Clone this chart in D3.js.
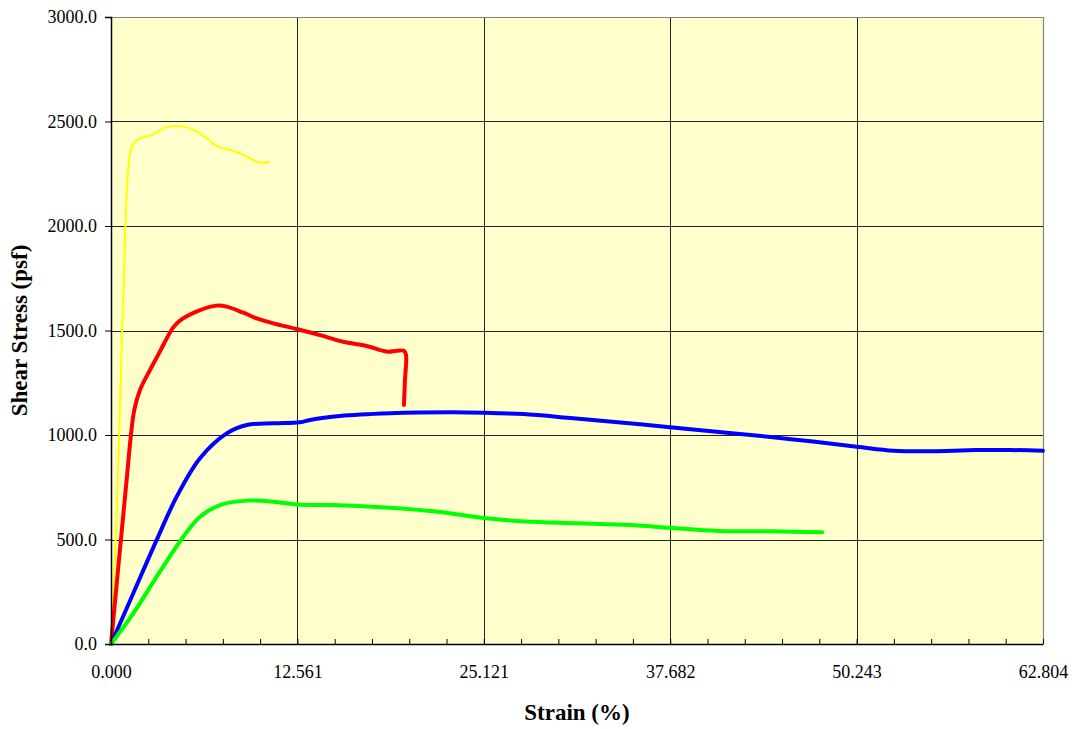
<!DOCTYPE html>
<html>
<head>
<meta charset="utf-8">
<script src="https://cdn.jsdelivr.net/npm/d3@7"></script>
<style>
  html, body { margin: 0; padding: 0; background: #fff; }
  svg { display: block; }
  svg text { font-family: "Liberation Serif", "Times New Roman", "DejaVu Serif", "Noto Serif", Times, serif !important; fill: #000; }
</style>
</head>
<body>
<svg id="chart" width="1076" height="729"></svg>
<script>
// ---- Data (strain %, shear stress psf) ----
const yellowStrain = [0, 0.384, 0.654, 0.829, 1.327, 1.617, 1.954, 2.743, 3.524, 4.313, 5.101, 5.775, 6.449, 7.231, 8.241, 9.144, 10.04, 10.65];
const yellowStress = [0, 627, 1263, 1660, 2364, 2403, 2420, 2435, 2467, 2478, 2472, 2451, 2420, 2379, 2360, 2332, 2303, 2306];

const redStrain = [0, 0.40, 0.75, 1.06, 1.33, 1.57, 1.954, 2.628, 3.302, 3.753, 4.198, 4.650, 5.101, 5.997, 7.123, 7.796, 8.915, 9.818, 10.94, 12.51, 14.08, 15.65, 17.23, 18.58, 19.25, 19.74, 19.88, 19.81, 19.74];
const redStress = [0, 300, 560, 790, 990, 1120, 1215, 1311, 1400, 1462, 1515, 1548, 1568, 1598, 1619, 1614, 1585, 1558, 1534, 1507, 1478, 1446, 1426, 1399, 1403, 1403, 1383, 1263, 1144];

const blueStrain = [0, 1.503, 3.080, 4.427, 5.997, 7.797, 9.144, 10.94, 12.74, 13.41, 15.43, 18.80, 22.84, 25.09, 27.78, 31.15, 34.52, 37.67, 41.49, 45.98, 50.25, 52.72, 54.97, 58.34, 60.58, 62.80];
const blueStress = [0, 243, 498, 705, 889, 1008, 1048, 1056, 1061, 1072, 1091, 1104, 1109, 1107, 1100, 1080, 1059, 1037, 1011, 979, 944, 925, 922, 928, 928, 925];

const greenStrain = [0, 1.503, 3.080, 4.872, 5.997, 7.345, 9.144, 10.94, 12.57, 14.93, 18.48, 22.03, 25.10, 27.94, 31.48, 35.03, 37.64, 40.94, 44.49, 47.92];
const greenStress = [0, 147, 322, 513, 609, 665, 686, 681, 667, 665, 653, 633, 603, 586, 578, 569, 556, 541, 539, 535];

const xTicks = [0, 12.5608, 25.1216, 37.6824, 50.2432, 62.804];
const xTickLabels = ["0.000", "12.561", "25.121", "37.682", "50.243", "62.804"];
const yTicks = [0, 500, 1000, 1500, 2000, 2500, 3000];
const yTickLabels = ["0.0", "500.0", "1000.0", "1500.0", "2000.0", "2500.0", "3000.0"];

const series = [
  { name: "yellow", x: yellowStrain, y: yellowStress, color: "#FFFF00", width: 2 },
  { name: "red", x: redStrain, y: redStress, color: "#FF0000", width: 4 },
  { name: "blue", x: blueStrain, y: blueStress, color: "#0000FF", width: 4 },
  { name: "green", x: greenStrain, y: greenStress, color: "#00FF00", width: 4 }
];

// ---- Layout ----
const pLeft = 111, pRight = 1043, pTop = 17, pBottom = 644;
const svg = d3.select("#chart");

const x = d3.scaleLinear().domain([0, 62.804]).range([pLeft, pRight]);
const y = d3.scaleLinear().domain([0, 3000]).range([pBottom, pTop]);

// plot background
svg.append("rect")
  .attr("x", pLeft).attr("y", pTop)
  .attr("width", pRight - pLeft).attr("height", pBottom - pTop)
  .attr("fill", "#FFFFCC");

// gridlines
const grid = svg.append("g").attr("shape-rendering", "crispEdges");
grid.selectAll("line.h").data(yTicks.filter(d => d > 0 && d < 3000)).enter()
  .append("line").attr("class", "h")
  .attr("x1", pLeft).attr("x2", pRight)
  .attr("y1", d => Math.round(y(d)) + 0.5).attr("y2", d => Math.round(y(d)) + 0.5)
  .attr("stroke", "#222").attr("stroke-width", 1);
grid.selectAll("line.v").data(xTicks.filter(d => d > 0 && d < 62.804)).enter()
  .append("line").attr("class", "v")
  .attr("y1", pTop).attr("y2", pBottom)
  .attr("x1", d => Math.round(x(d)) + 0.5).attr("x2", d => Math.round(x(d)) + 0.5)
  .attr("stroke", "#222").attr("stroke-width", 1);

// top & right border (grey)
svg.append("path")
  .attr("d", `M${pLeft},${pTop + 0.5}H${pRight + 0.5}V${pBottom}`)
  .attr("fill", "none").attr("stroke", "#808080").attr("stroke-width", 1.2);

// series
const line = d3.line()
  .x(d => x(d[0]))
  .y(d => y(d[1]))
  .curve(d3.curveCatmullRom.alpha(0.5));

series.forEach(s => {
  const pts = s.x.map((v, i) => [v, s.y[i]]);
  svg.append("path")
    .datum(pts)
    .attr("d", line)
    .attr("fill", "none")
    .attr("stroke", s.color)
    .attr("stroke-width", s.width)
    .attr("stroke-linejoin", "round")
    .attr("stroke-linecap", "round");
});

// Y axis
const yAxis = d3.axisLeft(y).tickValues(yTicks)
  .tickFormat((d, i) => yTickLabels[i]).tickSize(6).tickPadding(8);
const yg = svg.append("g").attr("transform", `translate(${pLeft},0)`).call(yAxis);
yg.select(".domain").attr("stroke", "#000").attr("stroke-width", 1.5);
yg.selectAll(".tick line").attr("stroke", "#000");
yg.selectAll("text").style("font-size", "18px");

// X axis: minor inward ticks + major labels
const minorTicks = d3.range(0, 26).map(i => i * 62.804 / 25);
const xAxisMinor = d3.axisBottom(x).tickValues(minorTicks).tickSize(-5).tickFormat("");
const xgm = svg.append("g").attr("transform", `translate(0,${pBottom})`).call(xAxisMinor);
xgm.select(".domain").remove();
xgm.selectAll(".tick line").attr("stroke", "#000");

const xAxis = d3.axisBottom(x).tickValues(xTicks)
  .tickFormat((d, i) => xTickLabels[i]).tickSize(0).tickPadding(21);
const xg = svg.append("g").attr("transform", `translate(0,${pBottom})`).call(xAxis);
xg.select(".domain").attr("stroke", "#000").attr("stroke-width", 1.5);
xg.selectAll("text").style("font-size", "18px");

// axis titles
svg.append("text")
  .attr("x", (pLeft + pRight) / 2)
  .attr("y", 720)
  .attr("text-anchor", "middle")
  .style("font-size", "23px").style("font-weight", "bold")
  .text("Strain (%)");

svg.append("text")
  .attr("transform", `translate(27,${(pTop + pBottom) / 2}) rotate(-90)`)
  .attr("text-anchor", "middle")
  .style("font-size", "23px").style("font-weight", "bold")
  .text("Shear Stress (psf)");
</script>
</body>
</html>
